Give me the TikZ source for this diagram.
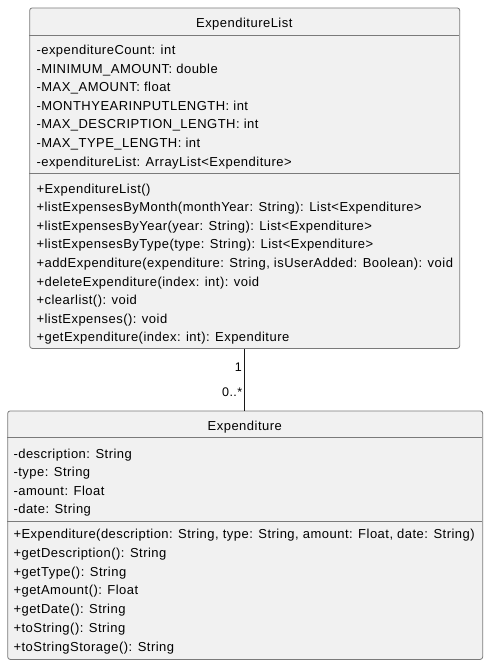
\documentclass[tikz,border=0pt]{standalone}
\usepackage{fontspec}
\setmainfont{Liberation Sans}[LetterSpace=3.7]
\definecolor{boxfill}{HTML}{F1F1F1}
\definecolor{boxline}{HTML}{7A7A7A}
\definecolor{linkline}{HTML}{181818}
\begin{document}
\begin{tikzpicture}[x=1pt,y=-1pt,
  classbox/.style={draw=boxline, line width=0.8pt, fill=boxfill, rounded corners=2.5pt, inner sep=0pt, anchor=north west},
  sep/.style={draw=boxline, line width=0.8pt},
  txt/.style={anchor=base west, inner sep=0pt, font=\fontsize{13}{15}\selectfont, text=black},
  ttl/.style={anchor=base, inner sep=0pt, font=\fontsize{13}{15}\selectfont, text=black},
  mult/.style={anchor=base east, inner sep=0pt, font=\fontsize{12.5}{15}\selectfont, text=black},
  assoc/.style={draw=linkline, line width=0.9pt}]
\useasboundingbox (0,0) rectangle (488,665);
% ExpenditureList
\node[classbox, minimum width=430pt, minimum height=340.5pt] (el) at (29.3,7.5) {};
\draw[sep] (29.3,35) -- (459.3,35);
\draw[sep] (29.3,173.5) -- (459.3,173.5);
\node[ttl] (elt) at (244.3,27) {ExpenditureList};
\foreach \t [count=\i from 0] in {%
  -expenditureCount: int,
  -MINIMUM\_AMOUNT: double,
  -MAX\_AMOUNT: float,
  -MONTHYEARINPUTLENGTH: int,
  -MAX\_DESCRIPTION\_LENGTH: int,
  -MAX\_TYPE\_LENGTH: int,
  -expenditureList: ArrayList<Expenditure>}
  \node[txt] (ela\i) at (36.3,54.5+18.6*\i) {\t};
\foreach \t [count=\i from 0] in {%
  +ExpenditureList(),
  +listExpensesByMonth(monthYear: String): List<Expenditure>,
  +listExpensesByYear(year: String): List<Expenditure>,
  +listExpensesByType(type: String): List<Expenditure>,
  {+addExpenditure(expenditure: String, isUserAdded: Boolean): void},
  +deleteExpenditure(index: int): void,
  +clearlist(): void,
  +listExpenses(): void,
  +getExpenditure(index: int): Expenditure}
  \node[txt] (elm\i) at (36.3,193+18.6*\i) {\t};
% Expenditure
\node[classbox, minimum width=475pt, minimum height=248.5pt] (ex) at (7.3,410.5) {};
\draw[sep] (7.3,437.5) -- (482.3,437.5);
\draw[sep] (7.3,521.7) -- (482.3,521.7);
\node[ttl] (ext) at (244.8,430.3) {Expenditure};
\foreach \t [count=\i from 0] in {%
  -description: String,
  -type: String,
  -amount: Float,
  -date: String}
  \node[txt] (exa\i) at (13.3,458.3+18.35*\i) {\t};
\foreach \t [count=\i from 0] in {%
  {+Expenditure(description: String, type: String, amount: Float, date: String)},
  +getDescription(): String,
  +getType(): String,
  +getAmount(): Float,
  +getDate(): String,
  +toString(): String,
  +toStringStorage(): String}
  \node[txt] (exm\i) at (13.3,538.3+18.85*\i) {\t};
% association
\draw[assoc] (el.south) -- (ex.north -| el.south);
\node[mult] (m1) at (242,371.5) {1};
\node[mult] (m2) at (242.5,396) {0..*};
\end{tikzpicture}
\end{document}
